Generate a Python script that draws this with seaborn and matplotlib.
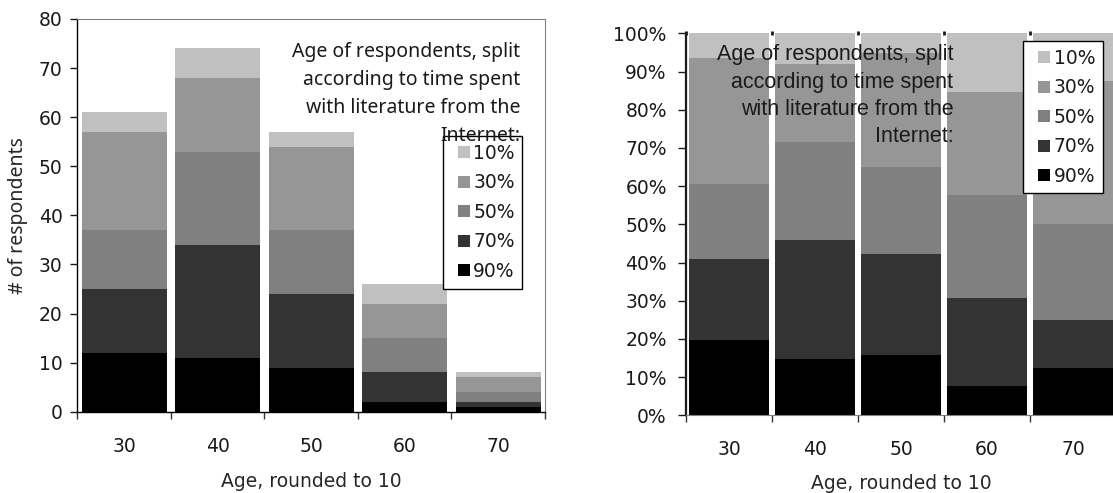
import numpy as np
import matplotlib
matplotlib.use("Agg")
import matplotlib.pyplot as plt
from matplotlib.lines import Line2D
from matplotlib.ticker import FixedLocator, PercentFormatter
import seaborn as sns

# Age groups (rounded to 10) and share of time spent with Internet literature
ages = ["30", "40", "50", "60", "70"]
shares = ["10%", "30%", "50%", "70%", "90%"]

# Respondent counts per age group for each share level
n_90 = [12, 11, 9, 2, 1]
n_70 = [13, 23, 15, 6, 1]
n_50 = [12, 19, 13, 7, 2]
n_30 = [20, 15, 17, 7, 3]
n_10 = [4, 6, 3, 4, 1]

shade = {"10%": "#c0c0c0", "30%": "#969696", "50%": "#808080",
         "70%": "#333333", "90%": "#000000"}

note = "Age of respondents, split\naccording to time spent\nwith literature from the\nInternet:"

sns.set_style("ticks")
plt.rcParams["font.family"] = ["DejaVu Sans"]
plt.rcParams["text.color"] = "#1a1a1a"

# stack order from the bottom up
layers = [("90%", n_90), ("70%", n_70), ("50%", n_50), ("30%", n_30), ("10%", n_10)]
counts = np.array([v for _, v in layers], dtype=float)
cum_counts = np.cumsum(counts, axis=0)
totals = cum_counts[-1]
cum_pct = cum_counts / totals * 100

W, H = 1113, 493
fig = plt.figure(figsize=(W / 100, H / 100), dpi=100)
ax1 = fig.add_axes([77.3 / W, (H - 411.7) / H, 467.5 / W, 392.7 / H])
ax2 = fig.add_axes([686 / W, (H - 415.3) / H, 430 / W, 382 / H])

FS = 13.5
HUMANIST = ["Noto Sans", "DejaVu Sans"]


def stacked(ax, cum, width):
    # draw the cumulative totals from the top layer downwards
    for (name, _), level in zip(layers[::-1], cum[::-1]):
        sns.barplot(x=ages, y=level, color=shade[name], saturation=1,
                    width=width, ax=ax, linewidth=0, zorder=1)
    ax.set_xlim(-0.5, 4.5)
    ax.xaxis.set_minor_locator(FixedLocator(np.arange(-0.5, 5.0, 1.0)))
    ax.tick_params(axis="x", which="major", length=0, pad=18, labelsize=FS,
                   colors="#1a1a1a")
    ax.tick_params(axis="x", which="minor", length=5, width=1, color="#333333",
                   direction="out")
    ax.set_xlabel("Age, rounded to 10", fontsize=FS)
    ax.set_ylabel("")


def legend(ax, x0, y0):
    handles = [Line2D([], [], linestyle="none", marker="s", markersize=9,
                      markerfacecolor=shade[s], markeredgewidth=0, label=s)
               for s in shares]
    leg = ax.legend(handles=handles, loc="upper left",
                    bbox_to_anchor=(x0 / W, 1 - y0 / H),
                    bbox_transform=fig.transFigure, borderaxespad=0,
                    fontsize=FS, frameon=True, fancybox=False, framealpha=1,
                    edgecolor="black", facecolor="white",
                    handlelength=1.4, handleheight=0.7, handletextpad=-0.2,
                    labelspacing=0.56, borderpad=0.42)
    leg.get_frame().set_linewidth(1.0)
    return leg


# left: absolute counts
stacked(ax1, cum_counts, 0.91)
ax1.set_ylim(0, 80)
ax1.set_yticks(np.arange(0, 81, 10))
ax1.tick_params(axis="y", length=5, width=1, pad=5.5, labelsize=FS,
                colors="#1a1a1a", direction="out")
ax1.set_ylabel("# of respondents", fontsize=14, family=HUMANIST)
ax1.yaxis.set_label_coords(-0.105, 0.5)
ax1.xaxis.set_label_coords(0.5, -0.153)
for side in ("top", "right"):
    ax1.spines[side].set_visible(True)
    ax1.spines[side].set_color("#808080")
for side in ("left", "bottom"):
    ax1.spines[side].set_color("#000000")
    ax1.spines[side].set_linewidth(1.0)
legend(ax1, 442.7, 136)
ax1.text(0.947, 0.689, note, transform=ax1.transAxes, ha="right",
         va="baseline", multialignment="right", fontsize=14, family=HUMANIST,
         linespacing=1.54, zorder=6)

# right: shares within each age group
stacked(ax2, cum_pct, 0.92)
ax2.set_ylim(0, 100)
ax2.set_yticks(np.arange(0, 101, 10))
ax2.yaxis.set_major_formatter(PercentFormatter(decimals=0))
ax2.tick_params(axis="y", length=5.8, width=1, pad=8, labelsize=FS,
                colors="#1a1a1a", direction="out")
ax2.xaxis.set_label_coords(0.5, -0.1537)
ax2.spines["top"].set_visible(False)
ax2.spines["right"].set_visible(False)
ax2.spines["left"].set_color("#1a1a1a")
ax2.spines["left"].set_linewidth(1.6)
ax2.spines["bottom"].set_color("#808080")
# short marks along the top edge at the group boundaries
top = ax2.secondary_xaxis("top")
top.set_xticks(np.arange(-0.5, 5.0, 1.0))
top.tick_params(length=2.2, width=2, direction="inout", labeltop=False,
                color="#1a1a1a")
top.spines["top"].set_visible(False)
legend(ax2, 1023.3, 40.7)
ax2.text(0.6216, 0.7162, note, transform=ax2.transAxes, ha="right",
         va="baseline", multialignment="right", fontsize=15.5,
         family=["Liberation Sans", "DejaVu Sans"], linespacing=1.38, zorder=3)

fig.savefig("out.png", dpi=100)
